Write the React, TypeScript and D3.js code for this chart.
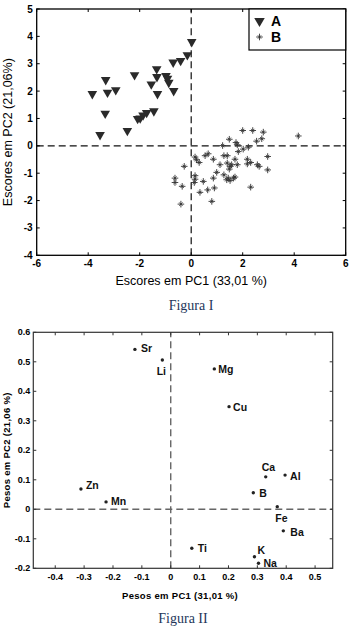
import { useEffect, useRef } from 'react'
import * as d3 from 'd3'

// Figura I - scores (PC1, PC2)
const groupA: [number, number][] = [
  [0.02, 3.8], [-0.15, 3.32], [-0.41, 3.11], [-0.7, 3.05], [-1.34, 2.81],
  [-2.2, 2.59], [-1.33, 2.52], [-0.98, 2.56], [-0.92, 2.46], [-0.87, 2.31],
  [-1.55, 2.25], [-3.32, 2.41], [-2.93, 2.04], [-3.25, 1.95], [-3.84, 1.9],
  [-1.31, 1.9], [-0.68, 2.01], [-3.34, 1.18], [-1.45, 1.27], [-1.73, 1.21],
  [-1.87, 1.12], [-1.98, 1.01], [-2.08, 0.99], [-3.54, 0.4], [-2.48, 0.55],
]

const groupB: [number, number][] = [
  [2.0, 0.56], [2.39, 0.56], [2.8, 0.5], [2.74, 0.26], [2.54, 0.17], [4.16, 0.36],
  [1.48, 0.24], [1.74, 0.12], [1.79, 0.04], [1.22, 0.01], [1.83, -0.21], [2.02, -0.12], [2.22, -0.05],
  [0.15, -0.41], [0.21, -0.51], [0.31, -0.61], [0.54, -0.36], [0.66, -0.29], [0.86, -0.49],
  [1.27, -0.36], [1.4, -0.36], [1.12, -0.69], [1.4, -0.63], [1.51, -0.75], [1.48, -0.85],
  [1.57, -0.69], [1.7, -0.49], [1.79, -0.69], [2.18, -0.49], [2.18, -0.66], [2.31, -0.61],
  [2.57, -0.69], [2.64, -0.75], [2.97, -0.39], [2.97, -0.88],
  [-0.27, -0.75], [-0.63, -1.18], [-0.63, -1.34], [-0.35, -1.48], [0.15, -1.09], [0.15, -1.22],
  [0.12, -1.34], [0.47, -1.3], [0.34, -1.7], [0.64, -1.61], [0.9, -1.54], [0.86, -1.18],
  [0.99, -0.97], [1.27, -1.06], [1.38, -1.24], [1.51, -1.27], [1.44, -1.18], [1.7, -1.14],
  [1.64, -1.18], [-0.4, -2.13], [0.8, -2.03], [2.31, -1.51],
]

const scoreXTicks = [-6, -4, -2, 0, 2, 4, 6]
const scoreYTicks = [-4, -3, -2, -1, 0, 1, 2, 3, 4, 5]

// Figura II - loadings
const elements = ['Sr', 'Li', 'Mg', 'Cu', 'Ca', 'Al', 'B', 'Fe', 'Ba', 'Ti', 'K', 'Na', 'Zn', 'Mn']
const pc1Loadings = [-0.124, -0.029, 0.151, 0.202, 0.329, 0.396, 0.286, 0.369, 0.39, 0.073, 0.29, 0.304, -0.311, -0.224]
const pc2Loadings = [0.542, 0.506, 0.476, 0.348, 0.11, 0.116, 0.056, 0.009, -0.073, -0.132, -0.161, -0.183, 0.069, 0.025]

const loadXTicks = [-0.4, -0.3, -0.2, -0.1, 0, 0.1, 0.2, 0.3, 0.4, 0.5]
const loadYTicks = [-0.2, -0.1, 0, 0.1, 0.2, 0.3, 0.4, 0.5, 0.6]

// label placement next to each point (dx, dy, anchor)
const labelPos: Record<string, [number, number, string]> = {
  Sr: [6, 3, 'start'], Li: [-1, 15, 'middle'], Mg: [4, 4, 'start'], Cu: [4, 4, 'start'],
  Ca: [-4, -6, 'start'], Al: [5, 5, 'start'], B: [6, 4, 'start'], Fe: [-2, 15, 'start'],
  Ba: [7, 5, 'start'], Ti: [6, 4, 'start'], K: [3, -3, 'start'], Na: [5, 4, 'start'],
  Zn: [5, 0, 'start'], Mn: [5, 3, 'start'],
}

const FONT = 'Arial, "Liberation Sans", sans-serif'

export default function App() {
  const svgRef = useRef<SVGSVGElement>(null)

  useEffect(() => {
    if (!svgRef.current) return
    const svg = d3.select(svgRef.current)
    svg.selectAll('*').remove()

    // ---------- Figura I ----------
    const x1 = d3.scaleLinear().domain([-6, 6]).range([36.7, 345.7])
    const y1 = d3.scaleLinear().domain([-4, 5]).range([255.3, 9])
    const g1 = svg.append('g')

    // dashed zero lines
    g1.append('line')
      .attr('x1', x1(-6)).attr('x2', x1(6)).attr('y1', y1(0)).attr('y2', y1(0))
      .attr('stroke', '#111').attr('stroke-width', 1.2).attr('stroke-dasharray', '7,4')
    g1.append('line')
      .attr('x1', x1(0)).attr('x2', x1(0)).attr('y1', y1(-4)).attr('y2', y1(5))
      .attr('stroke', '#111').attr('stroke-width', 1.2).attr('stroke-dasharray', '7,4')

    // ticks (inward, all four sides)
    const tl = 3
    scoreXTicks.forEach((t) => {
      g1.append('line').attr('x1', x1(t)).attr('x2', x1(t)).attr('y1', y1(-4)).attr('y2', y1(-4) - tl).attr('stroke', '#000')
      g1.append('line').attr('x1', x1(t)).attr('x2', x1(t)).attr('y1', y1(5)).attr('y2', y1(5) + tl).attr('stroke', '#000')
      g1.append('text')
        .attr('x', x1(t)).attr('y', y1(-4) + 12)
        .attr('text-anchor', 'middle').attr('font-family', FONT).attr('font-size', '10px').attr('font-weight', 'bold')
        .text(t)
    })
    scoreYTicks.forEach((t) => {
      g1.append('line').attr('x1', x1(-6)).attr('x2', x1(-6) + tl).attr('y1', y1(t)).attr('y2', y1(t)).attr('stroke', '#000')
      g1.append('line').attr('x1', x1(6)).attr('x2', x1(6) - tl).attr('y1', y1(t)).attr('y2', y1(t)).attr('stroke', '#000')
      g1.append('text')
        .attr('x', x1(-6) - 4).attr('y', y1(t) + 3.5)
        .attr('text-anchor', 'end').attr('font-family', FONT).attr('font-size', '10px').attr('font-weight', 'bold')
        .text(t)
    })

    const tri = d3.symbol().type(d3.symbolTriangle).size(40)
    const triLegend = d3.symbol().type(d3.symbolTriangle).size(48)

    g1.selectAll('.ptA')
      .data(groupA)
      .enter()
      .append('path')
      .attr('class', 'ptA')
      .attr('d', tri)
      .attr('transform', (d) => `translate(${x1(d[0])},${y1(d[1])}) rotate(180)`)
      .attr('fill', '#2a2a2a')

    const star = (r: number) => {
      const s = r * 0.5
      return `M0,${-r}V${r}M${-r},0H${r}M${-s},${-s}L${s},${s}M${-s},${s}L${s},${-s}`
    }

    g1.selectAll('.ptB')
      .data(groupB)
      .enter()
      .append('path')
      .attr('class', 'ptB')
      .attr('d', star(3.3))
      .attr('transform', (d) => `translate(${x1(d[0])},${y1(d[1])})`)
      .attr('stroke', '#333')
      .attr('stroke-width', 0.9)
      .attr('fill', 'none')

    // frame
    g1.append('rect')
      .attr('x', x1(-6)).attr('y', y1(5)).attr('width', x1(6) - x1(-6)).attr('height', y1(-4) - y1(5))
      .attr('fill', 'none').attr('stroke', '#000').attr('stroke-width', 1.3)

    // legend
    const lg = g1.append('g')
    lg.append('rect')
      .attr('x', 249).attr('y', y1(5)).attr('width', x1(6) - 249).attr('height', 50 - y1(5))
      .attr('fill', '#fff').attr('stroke', '#000').attr('stroke-width', 1.2)
    lg.append('path').attr('d', triLegend).attr('transform', 'translate(259.5,21) rotate(180)').attr('fill', '#2a2a2a')
    lg.append('text').attr('x', 271).attr('y', 25.5).attr('font-family', FONT).attr('font-size', '14px').attr('font-weight', 'bold').text('A')
    lg.append('path').attr('d', star(3.3)).attr('transform', 'translate(259.5,37)').attr('stroke', '#333').attr('stroke-width', 0.9)
    lg.append('text').attr('x', 271).attr('y', 42).attr('font-family', FONT).attr('font-size', '14px').attr('font-weight', 'bold').text('B')

    // axis titles
    g1.append('text')
      .attr('x', x1(0)).attr('y', 285)
      .attr('text-anchor', 'middle').attr('font-family', FONT).attr('font-size', '12.5px')
      .text('Escores em PC1 (33,01 %)')
    g1.append('text')
      .attr('transform', `translate(12,${(y1(5) + y1(-4)) / 2}) rotate(-90)`)
      .attr('text-anchor', 'middle').attr('font-family', FONT).attr('font-size', '12.5px')
      .text('Escores em PC2 (21,06%)')

    g1.append('text')
      .attr('x', 191).attr('y', 310)
      .attr('text-anchor', 'middle').attr('font-family', '"Liberation Serif", "Times New Roman", serif').attr('font-size', '14px')
      .attr('fill', '#24365a')
      .text('Figura I')

    // ---------- Figura II ----------
    const x2 = d3.scaleLinear().domain([-0.476, 0.561]).range([33.3, 332.7])
    const y2 = d3.scaleLinear().domain([-0.2, 0.6]).range([568.3, 332.3])
    const g2 = svg.append('g')
    const fmt = (v: number) => (v === 0 ? '0' : v.toFixed(1))

    g2.append('line')
      .attr('x1', x2.range()[0]).attr('x2', x2.range()[1]).attr('y1', y2(0)).attr('y2', y2(0))
      .attr('stroke', '#666').attr('stroke-width', 1.4).attr('stroke-dasharray', '7,4')
    g2.append('line')
      .attr('x1', x2(0)).attr('x2', x2(0)).attr('y1', y2(-0.2)).attr('y2', y2(0.6))
      .attr('stroke', '#666').attr('stroke-width', 1.4).attr('stroke-dasharray', '7,4')

    loadXTicks.forEach((t) => {
      g2.append('line').attr('x1', x2(t)).attr('x2', x2(t)).attr('y1', y2(-0.2)).attr('y2', y2(-0.2) - tl).attr('stroke', '#333')
      g2.append('line').attr('x1', x2(t)).attr('x2', x2(t)).attr('y1', y2(0.6)).attr('y2', y2(0.6) + tl).attr('stroke', '#333')
      g2.append('text')
        .attr('x', x2(t)).attr('y', y2(-0.2) + 12)
        .attr('text-anchor', 'middle').attr('font-family', FONT).attr('font-size', '9px').attr('font-weight', 'bold')
        .text(fmt(t))
    })
    loadYTicks.forEach((t) => {
      g2.append('line').attr('x1', x2.range()[0]).attr('x2', x2.range()[0] + tl).attr('y1', y2(t)).attr('y2', y2(t)).attr('stroke', '#333')
      g2.append('line').attr('x1', x2.range()[1]).attr('x2', x2.range()[1] - tl).attr('y1', y2(t)).attr('y2', y2(t)).attr('stroke', '#333')
      g2.append('text')
        .attr('x', x2.range()[0] - 3).attr('y', y2(t) + 3)
        .attr('text-anchor', 'end').attr('font-family', FONT).attr('font-size', '9px').attr('font-weight', 'bold')
        .text(fmt(t))
    })

    g2.append('rect')
      .attr('x', x2.range()[0]).attr('y', y2(0.6))
      .attr('width', x2.range()[1] - x2.range()[0]).attr('height', y2(-0.2) - y2(0.6))
      .attr('fill', 'none').attr('stroke', '#333').attr('stroke-width', 1.2)

    const pts = elements.map((name, i) => ({ name, x: pc1Loadings[i], y: pc2Loadings[i] }))

    g2.selectAll('.dot')
      .data(pts)
      .enter()
      .append('circle')
      .attr('class', 'dot')
      .attr('cx', (d) => x2(d.x))
      .attr('cy', (d) => y2(d.y))
      .attr('r', 1.7)
      .attr('fill', '#222')

    g2.selectAll('.lbl')
      .data(pts)
      .enter()
      .append('text')
      .attr('class', 'lbl')
      .attr('x', (d) => x2(d.x) + labelPos[d.name][0])
      .attr('y', (d) => y2(d.y) + labelPos[d.name][1])
      .attr('text-anchor', (d) => labelPos[d.name][2])
      .attr('font-family', FONT)
      .attr('font-size', '10.5px')
      .attr('font-weight', 'bold')
      .attr('fill', '#111')
      .text((d) => d.name)

    g2.append('text')
      .attr('x', 180).attr('y', 599)
      .attr('text-anchor', 'middle').attr('font-family', FONT).attr('font-size', '9.5px').attr('font-weight', 'bold')
      .attr('letter-spacing', '0.3px')
      .text('Pesos em PC1 (31,01 %)')
    g2.append('text')
      .attr('transform', `translate(10,${(y2(0.6) + y2(-0.2)) / 2}) rotate(-90)`)
      .attr('text-anchor', 'middle').attr('font-family', FONT).attr('font-size', '9.5px').attr('font-weight', 'bold')
      .attr('letter-spacing', '0.3px')
      .text('Pesos em PC2 (21,06 %)')

    g2.append('text')
      .attr('x', 183).attr('y', 623)
      .attr('text-anchor', 'middle').attr('font-family', '"Liberation Serif", "Times New Roman", serif').attr('font-size', '14px')
      .attr('fill', '#24365a')
      .text('Figura II')
  }, [])

  return (
    <svg
      ref={svgRef}
      width={353}
      height={630}
      style={{ position: 'absolute', left: 0, top: 0, background: '#fff' }}
    />
  )
}
